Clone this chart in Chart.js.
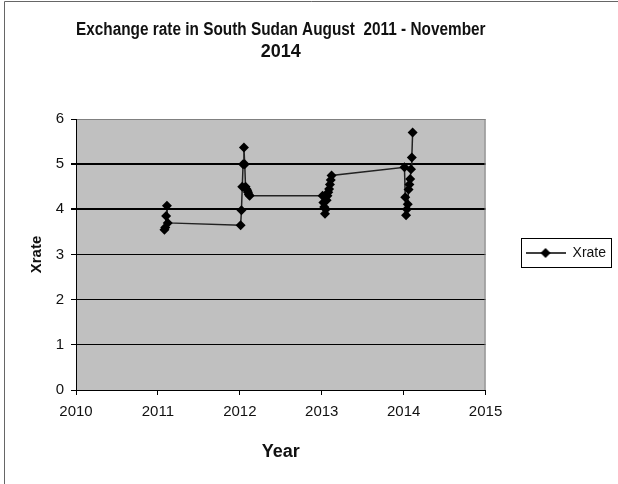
<!DOCTYPE html>
<html>
<head>
<meta charset="utf-8">
<script src="https://cdn.jsdelivr.net/npm/chart.js@4/dist/chart.umd.min.js"></script>
<style>
  body { margin: 0; background: #fff; }
</style>
</head>
<body>
<canvas id="xrateChart" width="618" height="484"></canvas>
<script>
// x values are year.month, the way the sheet stored them (Aug 2011 = 2011.08)
const periods2011 = [2011.08, 2011.09, 2011.10, 2011.11, 2011.12];
const periods2012 = [2012.01, 2012.02, 2012.03, 2012.04, 2012.05, 2012.06, 2012.07, 2012.08, 2012.09, 2012.10, 2012.11, 2012.12];
const periods2013 = [2013.01, 2013.02, 2013.03, 2013.04, 2013.05, 2013.06, 2013.07, 2013.08, 2013.09, 2013.10, 2013.11, 2013.12];
const periods2014 = [2014.01, 2014.02, 2014.03, 2014.04, 2014.05, 2014.06, 2014.07, 2014.08, 2014.09, 2014.10, 2014.11];

const rates2011 = [3.55, 3.6, 3.85, 4.08, 3.7];
const rates2012 = [3.65, 3.98, 4.5, 5.0, 5.37, 5.0, 4.5, 4.45, 4.42, 4.38, 4.33, 4.3];
const rates2013 = [4.3, 4.15, 4.05, 3.9, 4.0, 4.2, 4.3, 4.38, 4.45, 4.55, 4.65, 4.75];
const rates2014 = [4.93, 4.27, 3.87, 4.0, 4.11, 4.44, 4.55, 4.67, 4.89, 5.15, 5.7];

const yearTicks = [2010, 2011, 2012, 2013, 2014, 2015];
const rateTicks = [0, 1, 2, 3, 4, 5, 6];

const periods = [].concat(periods2011, periods2012, periods2013, periods2014);
const rates = [].concat(rates2011, rates2012, rates2013, rates2014);
const points = periods.map((p, i) => ({ x: p, y: rates[i] }));

const FONT = "'Liberation Sans', Arial, sans-serif";

// legend sample: line with a diamond in the middle
function legendSample() {
    const c = document.createElement('canvas');
    c.width = 40; c.height = 12;
    const g = c.getContext('2d');
    g.strokeStyle = '#000';
    g.lineWidth = 1.5;
    g.beginPath(); g.moveTo(0, 6); g.lineTo(40, 6); g.stroke();
    g.fillStyle = '#000';
    g.beginPath();
    g.moveTo(20, 1); g.lineTo(25, 6); g.lineTo(20, 11); g.lineTo(15, 6);
    g.closePath(); g.fill();
    return c;
}

const plotDecor = {
    id: 'plotDecor',
    beforeDraw(chart) {
        const { ctx, chartArea: a } = chart;
        ctx.save();
        ctx.fillStyle = '#fff';
        ctx.fillRect(0, 0, chart.width, chart.height);
        ctx.fillStyle = '#c0c0c0';
        ctx.fillRect(a.left, a.top, a.right - a.left, a.bottom - a.top);
        ctx.restore();
    },
    beforeDatasetsDraw(chart) {
        const { ctx, chartArea: a } = chart;
        ctx.save();
        ctx.strokeStyle = '#808080';
        ctx.lineWidth = 1;
        ctx.beginPath();
        ctx.moveTo(a.right - 0.5, a.top);
        ctx.lineTo(a.right - 0.5, a.bottom);
        ctx.stroke();
        ctx.restore();
    },
    afterDraw(chart) {
        const ctx = chart.ctx;
        ctx.save();
        // outer frame (left and top only visible)
        ctx.strokeStyle = '#666';
        ctx.lineWidth = 1;
        ctx.beginPath();
        ctx.moveTo(4.5, chart.height);
        ctx.lineTo(4.5, 1.5);
        ctx.lineTo(chart.width, 1.5);
        ctx.stroke();
        // legend border
        const hb = chart.legend.legendHitBoxes[0];
        if (hb) {
            ctx.strokeStyle = '#000';
            ctx.strokeRect(Math.round(hb.left - 5) + 0.5, Math.round(hb.top - 8) + 0.5,
                           Math.round(hb.width + 10), Math.round(hb.height + 15));
        }
        ctx.restore();
    }
};

new Chart(document.getElementById('xrateChart'), {
    type: 'scatter',
    data: {
        datasets: [{
            label: 'Xrate',
            data: points,
            showLine: true,
            borderColor: '#222',
            borderWidth: 1.5,
            pointStyle: 'rectRot',
            pointRadius: 5,
            pointBackgroundColor: '#000',
            pointBorderColor: '#000',
            pointBorderWidth: 0
        }]
    },
    options: {
        responsive: false,
        animation: false,
        layout: { padding: { left: 0, right: 2, top: 0, bottom: 0 } },
        plugins: {
            title: {
                display: true,
                fullSize: false,
                text: ['Exchange rate in South Sudan August  2011 - November', '2014'],
                font: { family: FONT, size: 18, weight: 'bold', lineHeight: 22 / 18 },
                color: '#111',
                padding: { top: 19, bottom: 56 }
            },
            legend: {
                position: 'right',
                title: { display: true, text: '', padding: 0, font: { size: 10, lineHeight: 2.2 } },
                labels: {
                    usePointStyle: true,
                    pointStyle: legendSample(),
                    pointStyleWidth: 40,
                    padding: 40,
                    color: '#111',
                    font: { family: FONT, size: 14 }
                }
            },
            tooltip: { enabled: false }
        },
        scales: {
            x: {
                type: 'linear',
                min: yearTicks[0],
                max: yearTicks[yearTicks.length - 1],
                afterBuildTicks: s => { s.ticks = yearTicks.map(v => ({ value: v })); },
                ticks: {
                    callback: v => String(v),
                    color: '#111',
                    padding: 8,
                    maxRotation: 0,
                    font: { family: FONT, size: 15 }
                },
                grid: { drawOnChartArea: false, drawTicks: true, tickLength: 5, tickColor: '#000' },
                border: { color: '#000', width: 1 },
                title: {
                    display: true,
                    text: 'Year',
                    color: '#111',
                    font: { family: FONT, size: 18, weight: 'bold' },
                    padding: { top: 4, bottom: 21 }
                },
                afterFit: s => { s.height = 94; }
            },
            y: {
                min: rateTicks[0],
                max: rateTicks[rateTicks.length - 1],
                afterBuildTicks: s => { s.ticks = rateTicks.map(v => ({ value: v })); },
                ticks: {
                    color: '#111',
                    padding: 7,
                    font: { family: FONT, size: 15 }
                },
                grid: {
                    color: c => (c.tick && c.tick.value === 6 ? '#808080' : '#000'),
                    lineWidth: c => (c.tick && c.tick.value >= 4 && c.tick.value < 6 ? 2 : 1),
                    tickLength: 5,
                    tickColor: '#000'
                },
                border: { color: '#000', width: 1 },
                title: {
                    display: true,
                    text: 'Xrate',
                    color: '#111',
                    font: { family: FONT, size: 15, weight: 'bold' },
                    padding: { top: 28, bottom: 4 }
                },
                afterFit: s => { s.width = 76; }
            }
        }
    },
    plugins: [plotDecor]
});
</script>
</body>
</html>
